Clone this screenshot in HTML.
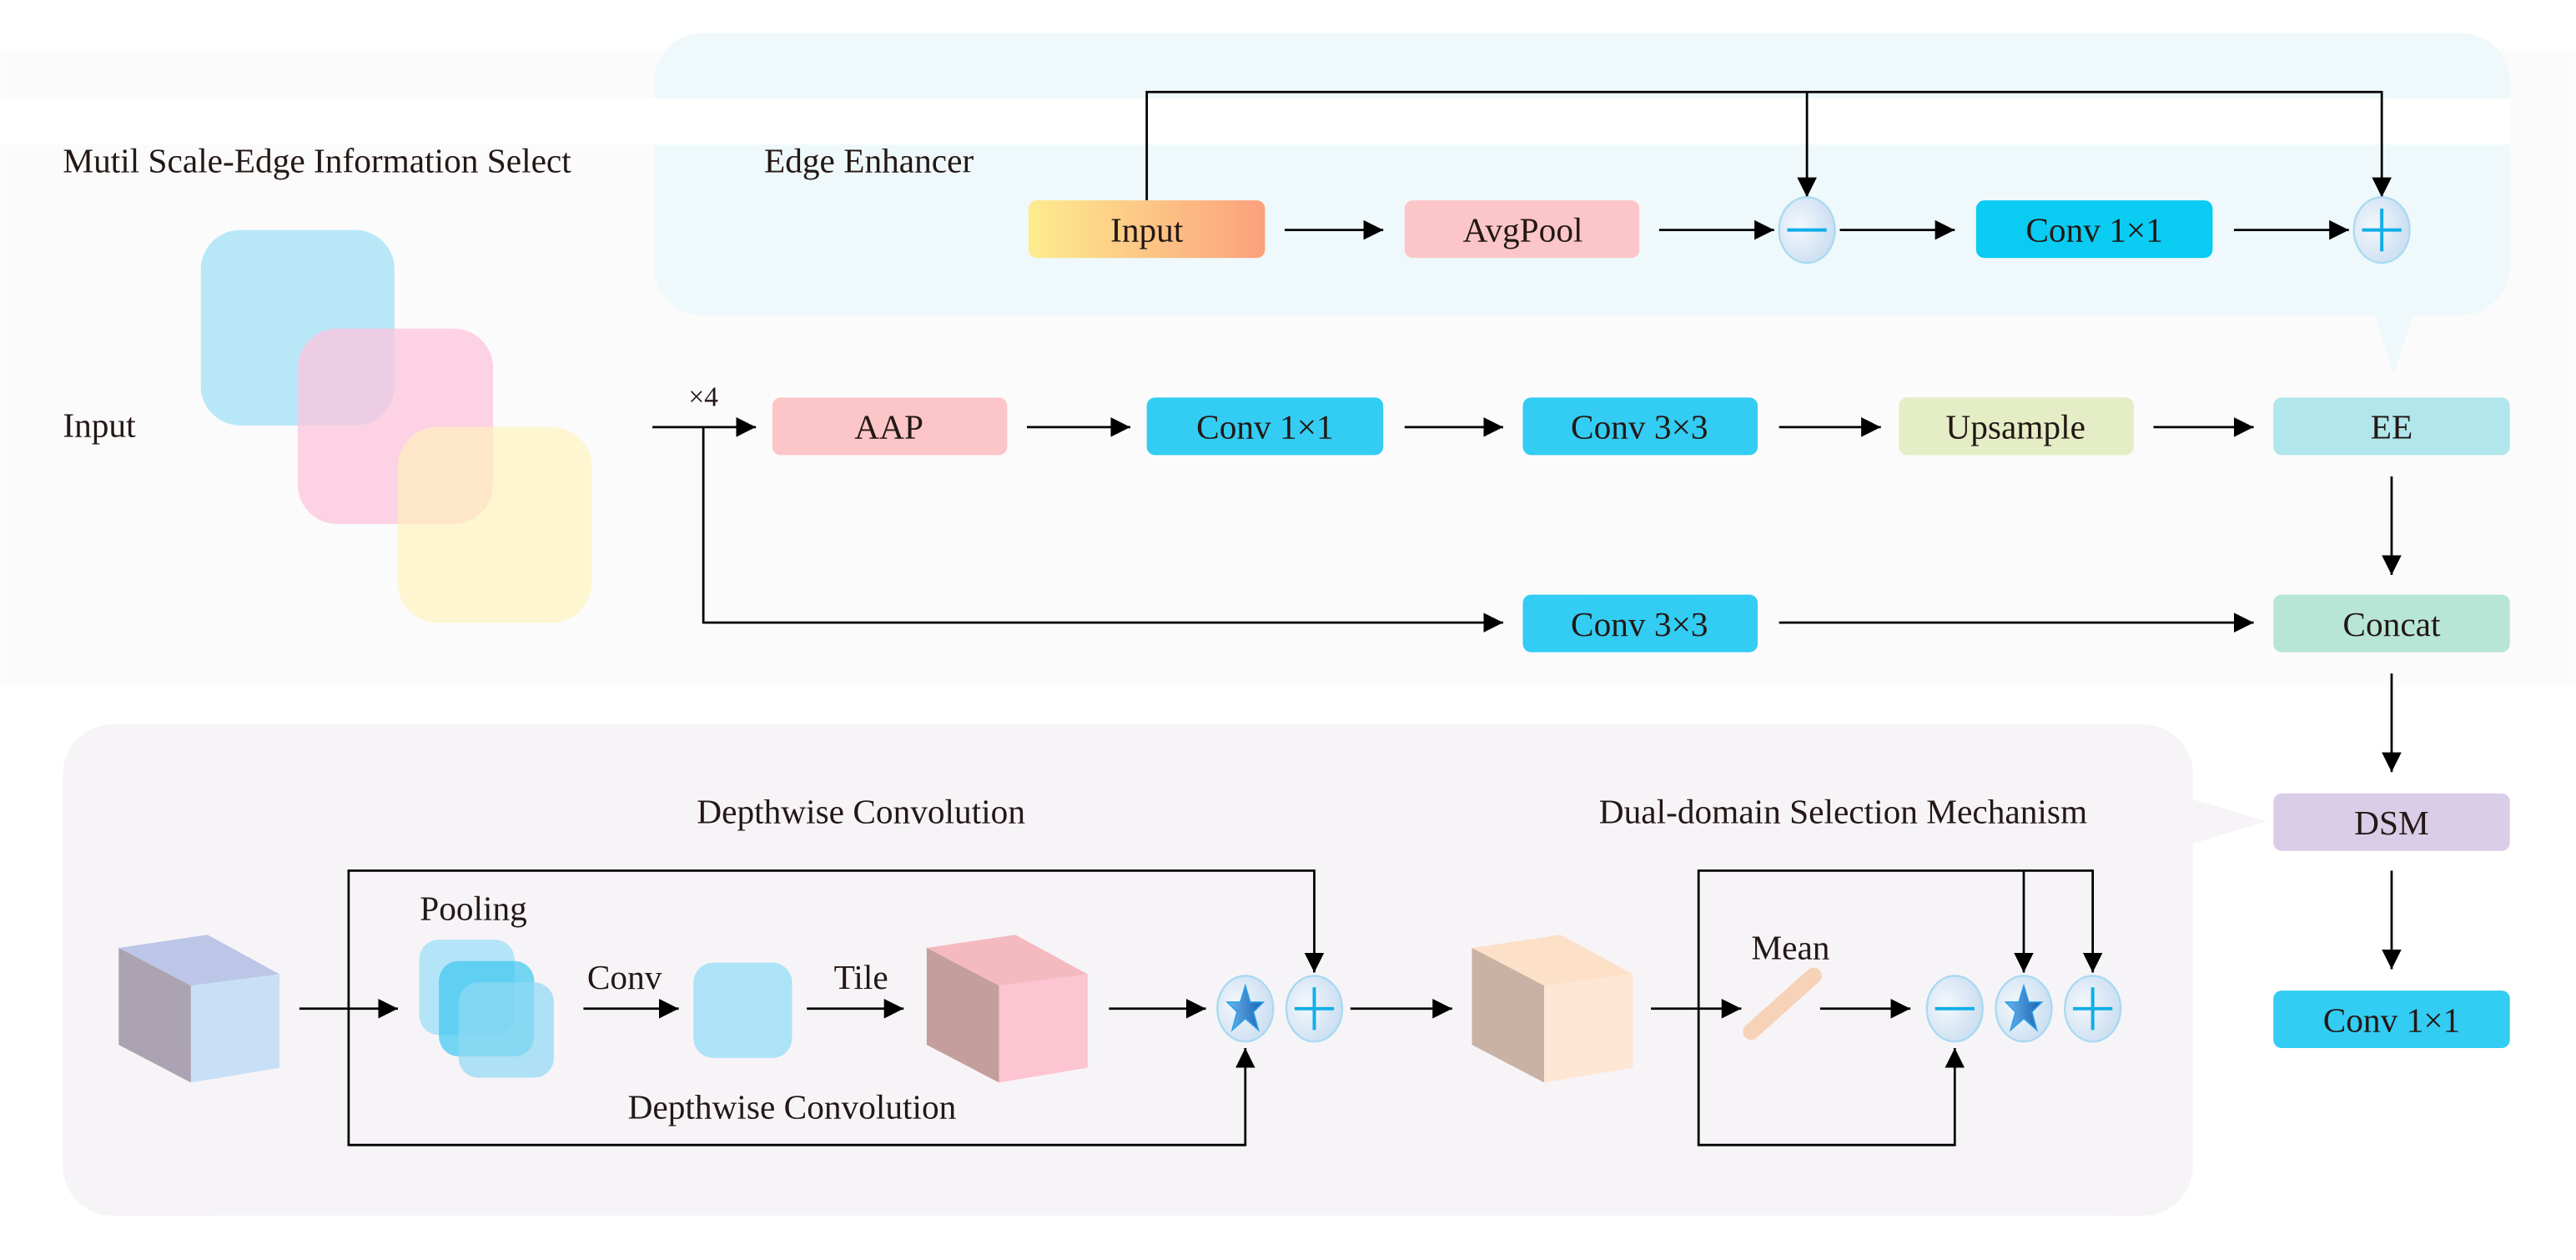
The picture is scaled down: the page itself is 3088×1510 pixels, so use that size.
<!DOCTYPE html>
<html><head><meta charset="utf-8"><style>html,body{margin:0;padding:0;background:#fff}svg{display:block}</style></head>
<body>
<svg width="3088" height="1510" viewBox="0 0 1568 767" xmlns="http://www.w3.org/2000/svg" font-family="Liberation Serif, serif" font-size="21" fill="#231815">
<defs>
<marker id="a" viewBox="0 0 10 10" refX="10" refY="5" markerWidth="12" markerHeight="12" markerUnits="userSpaceOnUse" orient="auto"><path d="M0,0 L10,5 L0,10 z" fill="#000"/></marker>
<linearGradient id="gin" x1="0" x2="1" y1="0" y2="0"><stop offset="0" stop-color="#fdec8e"/><stop offset="1" stop-color="#fca07c"/></linearGradient>
<radialGradient id="gc" cx="0.35" cy="0.45" r="0.7"><stop offset="0" stop-color="#f4f8fc"/><stop offset="1" stop-color="#c8dcf0"/></radialGradient>
<linearGradient id="gs" x1="0" x2="1"><stop offset="0" stop-color="#6ab8ee"/><stop offset="1" stop-color="#1a5fb0"/></linearGradient>
</defs>
<rect x="0" y="0" width="1568" height="767" fill="#ffffff"/>
<rect x="0" y="30" width="1568" height="388" fill="#fbfbfb"/>
<rect x="398" y="20" width="1130" height="172" rx="30" fill="#eff8fa"/>
<polygon points="1445,190 1470,190 1457,228" fill="#eff8fa"/>
<rect x="0" y="60" width="1528" height="28" fill="#ffffff"/>
<rect x="38" y="441" width="1297" height="299" rx="30" fill="#f7f4f8"/>
<polygon points="1330,485 1330,515 1380,500" fill="#f7f4f8"/>

<text x="38" y="105">Mutil Scale-Edge Information Select</text>
<text x="465" y="105">Edge Enhancer</text>
<text x="38" y="266">Input</text>

<rect x="122" y="140" width="118" height="119" rx="24" fill="#b8e8f8"/>
<rect x="181" y="200" width="119" height="119" rx="24" fill="#fdc4de" opacity="0.75"/>
<rect x="242" y="260" width="118" height="119" rx="24" fill="#fff3b8" opacity="0.65"/>

<g stroke="#000" stroke-width="1.4" fill="none">
<polyline points="698,122 698,56 1450,56 1450,120" marker-end="url(#a)"/>
<line x1="1100" y1="56" x2="1100" y2="120" marker-end="url(#a)"/>
<line x1="782" y1="140" x2="842" y2="140" marker-end="url(#a)"/>
<line x1="1010" y1="140" x2="1080" y2="140" marker-end="url(#a)"/>
<line x1="1120" y1="140" x2="1190" y2="140" marker-end="url(#a)"/>
<line x1="1360" y1="140" x2="1430" y2="140" marker-end="url(#a)"/>
<line x1="397" y1="260" x2="460" y2="260" marker-end="url(#a)"/>
<polyline points="428,260 428,379 915,379" marker-end="url(#a)"/>
<line x1="625" y1="260" x2="688" y2="260" marker-end="url(#a)"/>
<line x1="855" y1="260" x2="915" y2="260" marker-end="url(#a)"/>
<line x1="1083" y1="260" x2="1145" y2="260" marker-end="url(#a)"/>
<line x1="1311" y1="260" x2="1372" y2="260" marker-end="url(#a)"/>
<line x1="1083" y1="379" x2="1372" y2="379" marker-end="url(#a)"/>
<line x1="1456" y1="290" x2="1456" y2="350" marker-end="url(#a)"/>
<line x1="1456" y1="410" x2="1456" y2="470" marker-end="url(#a)"/>
<line x1="1456" y1="530" x2="1456" y2="590" marker-end="url(#a)"/>
<line x1="182" y1="614" x2="242" y2="614" marker-end="url(#a)"/>
<polyline points="212,614 212,530 800,530 800,592" marker-end="url(#a)"/>
<polyline points="212,614 212,697 758,697 758,638" marker-end="url(#a)"/>
<line x1="355" y1="614" x2="413" y2="614" marker-end="url(#a)"/>
<line x1="491" y1="614" x2="550" y2="614" marker-end="url(#a)"/>
<line x1="675" y1="614" x2="734" y2="614" marker-end="url(#a)"/>
<line x1="822" y1="614" x2="884" y2="614" marker-end="url(#a)"/>
<line x1="1005" y1="614" x2="1060" y2="614" marker-end="url(#a)"/>
<polyline points="1034,614 1034,530 1274,530 1274,592" marker-end="url(#a)"/>
<line x1="1232" y1="530" x2="1232" y2="592" marker-end="url(#a)"/>
<polyline points="1034,614 1034,697 1190,697 1190,638" marker-end="url(#a)"/>
<line x1="1108" y1="614" x2="1163" y2="614" marker-end="url(#a)"/>
</g>

<text x="428" y="247" font-size="17" text-anchor="middle">×4</text>

<g text-anchor="middle">
<rect x="626" y="122" width="144" height="35" rx="5" fill="url(#gin)"/><text x="698" y="147">Input</text>
<rect x="855" y="122" width="143" height="35" rx="5" fill="#fcc6c8"/><text x="927" y="147">AvgPool</text>
<rect x="1203" y="122" width="144" height="35" rx="5" fill="#0acbf2"/><text x="1275" y="147">Conv 1×1</text>
<rect x="470" y="242" width="143" height="35" rx="5" fill="#fcc6c8"/><text x="541" y="267">AAP</text>
<rect x="698" y="242" width="144" height="35" rx="5" fill="#33ccf2"/><text x="770" y="267">Conv 1×1</text>
<rect x="927" y="242" width="143" height="35" rx="5" fill="#33ccf2"/><text x="998" y="267">Conv 3×3</text>
<rect x="1156" y="242" width="143" height="35" rx="5" fill="#e4edc6"/><text x="1227" y="267">Upsample</text>
<rect x="1384" y="242" width="144" height="35" rx="5" fill="#b0e6ec"/><text x="1456" y="267">EE</text>
<rect x="927" y="362" width="143" height="35" rx="5" fill="#33ccf2"/><text x="998" y="387">Conv 3×3</text>
<rect x="1384" y="362" width="144" height="35" rx="5" fill="#b8e6d6"/><text x="1456" y="387">Concat</text>
<rect x="1384" y="483" width="144" height="35" rx="5" fill="#dacde8"/><text x="1456" y="508">DSM</text>
<rect x="1384" y="603" width="144" height="35" rx="5" fill="#33ccf2"/><text x="1456" y="628">Conv 1×1</text>
<text x="524" y="501">Depthwise Convolution</text>
<text x="1122" y="501">Dual-domain Selection Mechanism</text>
<text x="482" y="681">Depthwise Convolution</text>
<text x="288" y="560">Pooling</text>
<text x="380" y="602">Conv</text>
<text x="524" y="602">Tile</text>
<text x="1090" y="584">Mean</text>
</g>

<g stroke="#a8daf2" stroke-width="1.2" fill="url(#gc)">
<ellipse cx="1100" cy="140" rx="17" ry="20"/>
<ellipse cx="1450" cy="140" rx="17" ry="20"/>
<ellipse cx="758" cy="614" rx="17" ry="20"/>
<ellipse cx="800" cy="614" rx="17" ry="20"/>
<ellipse cx="1190" cy="614" rx="17" ry="20"/>
<ellipse cx="1232" cy="614" rx="17" ry="20"/>
<ellipse cx="1274" cy="614" rx="17" ry="20"/>
</g>
<g stroke="#10aee8" stroke-width="2">
<line x1="1088" y1="140" x2="1112" y2="140"/>
<line x1="1438" y1="140" x2="1462" y2="140"/><line x1="1450" y1="127" x2="1450" y2="153"/>
<line x1="788" y1="614" x2="812" y2="614"/><line x1="800" y1="601" x2="800" y2="627"/>
<line x1="1178" y1="614" x2="1202" y2="614"/>
<line x1="1262" y1="614" x2="1286" y2="614"/><line x1="1274" y1="601" x2="1274" y2="627"/>
</g>
<g fill="url(#gs)" stroke="#2aa0e8" stroke-width="0.8">
<path d="M758,600 L761,610 L769,610 L763,616 L766,627 L758,620 L750,627 L753,616 L747,610 L755,610 Z"/>
<path d="M1232,600 L1235,610 L1243,610 L1237,616 L1240,627 L1232,620 L1224,627 L1227,616 L1221,610 L1229,610 Z"/>
</g>

<!-- cubes -->
<g>
<polygon points="72,577 126,569 170,593 116,600" fill="#bcc6e6"/>
<polygon points="72,577 116,600 116,659 72,636" fill="#aca3b2"/>
<polygon points="116,600 170,593 170,650 116,659" fill="#c8e0f6"/>
</g>
<g transform="translate(492,0)">
<polygon points="72,577 126,569 170,593 116,600" fill="#f4babf"/>
<polygon points="72,577 116,600 116,659 72,636" fill="#c39e9c"/>
<polygon points="116,600 170,593 170,650 116,659" fill="#fdc4d2"/>
</g>
<g transform="translate(824,0)">
<polygon points="72,577 126,569 170,593 116,600" fill="#fde0c8"/>
<polygon points="72,577 116,600 116,659 72,636" fill="#c9b2a4"/>
<polygon points="116,600 170,593 170,650 116,659" fill="#fde6d4"/>
</g>

<rect x="255" y="572" width="58" height="58" rx="12" fill="#b4e4f8"/>
<rect x="267" y="585" width="58" height="58" rx="12" fill="#3cc8f0" opacity="0.7"/>
<rect x="279" y="598" width="58" height="58" rx="12" fill="#8ed8f4" opacity="0.7"/>
<rect x="422" y="586" width="60" height="58" rx="12" fill="#ade3f6"/>
<line x1="1066" y1="628" x2="1104" y2="594" stroke="#f6d2b8" stroke-width="10" stroke-linecap="round"/>
</svg>
</body></html>
